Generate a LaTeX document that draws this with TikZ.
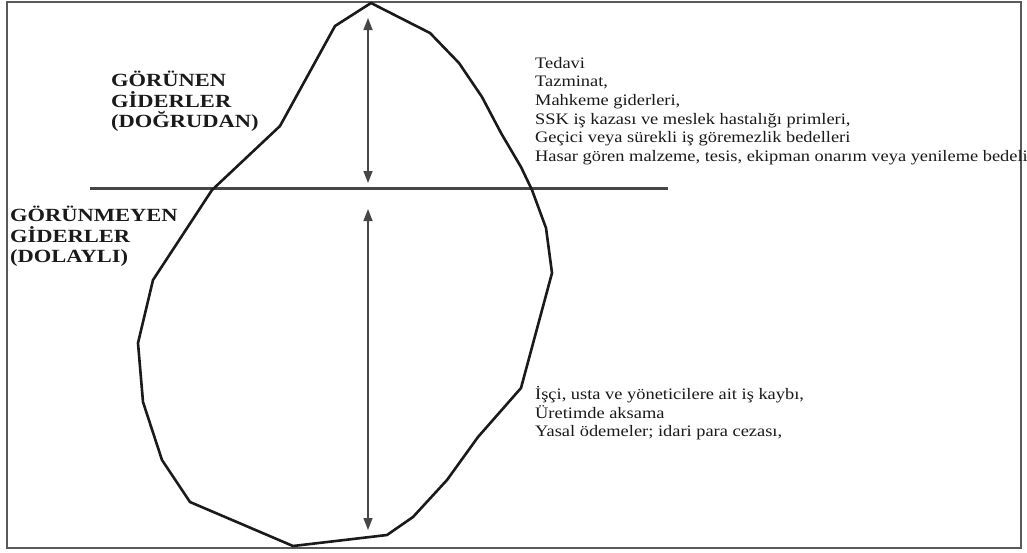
\documentclass[tikz,border=0pt]{standalone}
\usepackage{fontspec}
\setmainfont{Liberation Serif}
\newfontfamily\etiketfont{Liberation Serif}[FakeStretch=1.21]
\newfontfamily\listefont{Liberation Serif}[FakeStretch=1.15]
\usetikzlibrary{arrows.meta}
\definecolor{ink}{HTML}{1A1A1A}
\definecolor{rule}{HTML}{474747}
\definecolor{frame}{HTML}{5A5A5A}

\begin{document}
\begin{tikzpicture}[
    x=1pt, y=-1pt,
    ice/.style={draw=ink, line width=2.6pt, line join=round},
    level/.style={draw=rule, line width=3pt},
    span/.style={draw=rule, line width=1.4pt,
                 {Triangle[length=12pt, width=9pt]}-{Triangle[length=12pt, width=9pt]}},
    heading/.style={anchor=north west, inner sep=0pt, align=left, text=ink,
                    font=\etiketfont\bfseries\fontsize{18.6}{20.5}\selectfont},
    item/.style={anchor=north west, inner sep=0pt, align=left, text=ink,
                 font=\listefont\fontsize{16}{18.6}\selectfont},
  ]

  % Seite und Rahmen
  \fill[white] (0,0) rectangle (1027,552);
  \useasboundingbox (0,0) rectangle (1027,552);
  \draw[draw=frame, line width=1.5pt] (7,2) rectangle (1021,548);

  % Wasserlinie
  \coordinate (suSol) at (90,188);
  \coordinate (suSag) at (668,188);
  \draw[level] (suSol) -- (suSag);

  % Eisberg als Polygon
  \draw[ice] (371,3) -- (430,33) -- (459,63) -- (482,97) -- (501,133) -- (521,167)
    -- (532,190) -- (546,228) -- (552,273) -- (521,388) -- (478,437) -- (447,480)
    -- (413,517) -- (387,535) -- (293,546) -- (190,502) -- (162,460) -- (143,402)
    -- (138,343) -- (153,280) -- (212,190) -- (280,126) -- (335,26) -- cycle;

  % Maßpfeile über und unter der Wasserlinie
  \coordinate (ustUc)  at (368,18);
  \coordinate (ustAlt) at (368,183);
  \coordinate (altUc)  at (368,209);
  \coordinate (altAlt) at (368,530);
  \draw[span] (ustUc) -- (ustAlt);
  \draw[span] (altUc) -- (altAlt);

  % Überschriften links
  \node[heading] (gorunen) at (111,71) {GÖRÜNEN\\GİDERLER\\(DOĞRUDAN)};
  \node[heading] (gorunmeyen) at (10,206) {GÖRÜNMEYEN\\GİDERLER\\(DOLAYLI)};

  % Kostenlisten rechts
  \node[item] (dogrudan) at (535,57) {Tedavi\\Tazminat,\\Mahkeme giderleri,\\
    SSK iş kazası ve meslek hastalığı primleri,\\
    Geçici veya sürekli iş göremezlik bedelleri\\
    Hasar gören malzeme, tesis, ekipman onarım veya yenileme bedeli};
  \node[item] (dolayli) at (535,386) {İşçi, usta ve yöneticilere ait iş kaybı,\\
    Üretimde aksama\\Yasal ödemeler; idari para cezası,};

\end{tikzpicture}
\end{document}
